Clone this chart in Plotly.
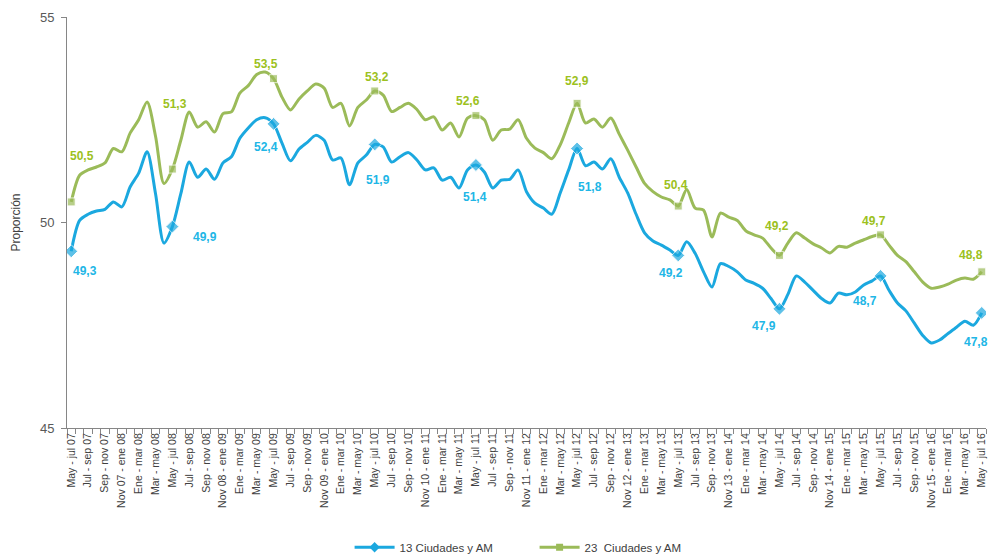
import plotly.graph_objects as go

months = ["May - jul", "Jun - ago", "Jul - sep", "Ago - oct", "Sep - nov", "Oct - dic",
          "Nov - ene", "Dic - feb", "Ene - mar", "Feb - abr", "Mar - may", "Abr - jun"]

# rolling quarter labels May-jul 07 ... May-jul 16 (109 periods)
categories = []
for k in range(109):
    m = k % 12
    yr = 7 + (k + 4) // 12
    base = months[m]
    if m == 6:
        categories.append(f"Nov {yr:02d} - ene {yr+1:02d}")
    elif m == 7:
        categories.append(f"Dic {yr:02d} - feb {yr+1:02d}")
    else:
        yy = 7 + (k + 6) // 12
        categories.append(f"{base} {yy:02d}")

serie_13 = [49.3, 50.05, 50.2, 50.28, 50.32, 50.5, 50.38, 50.87, 51.2, 51.72,
            50.7, 49.5, 49.9, 50.7, 51.47, 51.1, 51.3, 51.05, 51.45, 51.6,
            52.05, 52.3, 52.5, 52.55, 52.4, 51.93, 51.5, 51.78, 51.95, 52.12,
            52.0, 51.52, 51.57, 50.92, 51.45, 51.64, 51.9, 51.84, 51.47, 51.6,
            51.7, 51.52, 51.28, 51.33, 51.03, 51.1, 50.84, 51.28, 51.4, 51.23,
            50.84, 51.03, 51.05, 51.28, 50.75, 50.47, 50.35, 50.2, 50.72, 51.28,
            51.8, 51.38, 51.47, 51.3, 51.55, 51.1, 50.72, 50.2, 49.75, 49.55,
            49.45, 49.33, 49.2, 49.53, 49.25, 48.8, 48.43, 49.0, 48.93, 48.8,
            48.6, 48.52, 48.4, 48.15, 47.9, 48.25, 48.7, 48.55, 48.35, 48.15,
            48.04, 48.28, 48.24, 48.31, 48.48, 48.58, 48.7, 48.35, 48.04, 47.85,
            47.55, 47.25, 47.07, 47.14, 47.3, 47.45, 47.6, 47.5, 47.8]

serie_23 = [50.5, 51.15, 51.28, 51.35, 51.45, 51.8, 51.72, 52.18, 52.5, 52.93,
            52.1, 50.95, 51.3, 52.0, 52.69, 52.32, 52.45, 52.2, 52.65, 52.69,
            53.15, 53.33, 53.6, 53.66, 53.5, 53.05, 52.74, 53.0, 53.2, 53.37,
            53.27, 52.8, 52.9, 52.35, 52.8, 52.98, 53.2, 53.1, 52.7, 52.8,
            52.9, 52.75, 52.5, 52.57, 52.25, 52.42, 52.08, 52.54, 52.6, 52.5,
            52.0, 52.25, 52.27, 52.5, 52.05, 51.81, 51.7, 51.55, 51.89, 52.42,
            52.9, 52.42, 52.52, 52.32, 52.54, 52.15, 51.76, 51.35, 50.95, 50.75,
            50.62, 50.55, 50.4, 50.8, 50.35, 50.3, 49.65, 50.23, 50.13, 50.05,
            49.8, 49.7, 49.62, 49.38, 49.2, 49.5, 49.75, 49.62, 49.48, 49.38,
            49.26, 49.42, 49.4, 49.5, 49.58, 49.66, 49.7, 49.45, 49.2, 49.05,
            48.8, 48.55, 48.4, 48.43, 48.5, 48.6, 48.65, 48.62, 48.8]

label_idx = [0, 12, 24, 36, 48, 60, 72, 84, 96, 108]
labels_13 = ["49,3", "49,9", "52,4", "51,9", "51,4", "51,8", "49,2", "47,9", "48,7", "47,8"]
labels_23 = ["50,5", "51,3", "53,5", "53,2", "52,6", "52,9", "50,4", "49,2", "49,7", "48,8"]

BLUE = "#1BA8DF"
BLUE_TXT = "#21B6E6"
GREEN = "#9BBB59"
GREEN_TXT = "#9CC120"

x = list(range(len(categories)))
msize_13 = [10 if i in label_idx else 0 for i in x]
msize_23 = [8 if i in label_idx else 0 for i in x]

fig = go.Figure()
fig.add_trace(go.Scatter(x=x, y=serie_13, mode="lines+markers", showlegend=False,
                         line=dict(color=BLUE, width=3, shape="spline", smoothing=0.8),
                         marker=dict(symbol="diamond", size=msize_13, color=BLUE)))
fig.add_trace(go.Scatter(x=x, y=serie_23, mode="lines+markers", showlegend=False,
                         line=dict(color=GREEN, width=3, shape="spline", smoothing=0.8),
                         marker=dict(symbol="square", size=msize_23, color=GREEN)))
fig.add_trace(go.Scatter(x=[None], y=[None], mode="lines+markers", name="13 Ciudades y AM",
                         line=dict(color=BLUE, width=3),
                         marker=dict(symbol="diamond", size=8, color=BLUE)))
fig.add_trace(go.Scatter(x=[None], y=[None], mode="lines+markers", name="23  Ciudades y AM",
                         line=dict(color=GREEN, width=3),
                         marker=dict(symbol="square", size=7, color=GREEN)))

off_13 = [(14, -20), (33, -10), (-8, -23), (3, -36), (-1, -32), (13, -38), (-7, -18), (-15, -17), (-16, -25), (-6, -29)]
off_23 = [(11, 46), (3, 65), (-8, 15), (2, 14), (-8, 15), (0, 22), (-2, 21), (-2, 29), (-7, 14), (-11, 17)]

annotations = []
for k, i in enumerate(label_idx):
    annotations.append(dict(x=i, y=serie_13[i], xref="x", yref="y", text=labels_13[k],
                            showarrow=False, xshift=off_13[k][0], yshift=off_13[k][1],
                            font=dict(family="Liberation Sans, Arial", size=12, color=BLUE_TXT, weight="bold")))
    annotations.append(dict(x=i, y=serie_23[i], xref="x", yref="y", text=labels_23[k],
                            showarrow=False, xshift=off_23[k][0], yshift=off_23[k][1],
                            font=dict(family="Liberation Sans, Arial", size=12, color=GREEN_TXT, weight="bold")))
annotations.append(dict(x=0, y=0.5, xref="paper", yref="paper", text="Proporción", textangle=-90,
                        showarrow=False, xanchor="center", yanchor="middle", xshift=-52,
                        font=dict(family="Liberation Sans, Arial", size=12, color="#404040")))

ticktext = [c if i % 2 == 0 else "" for i, c in enumerate(categories)]

fig.update_layout(
    width=991, height=554,
    margin=dict(l=67, r=5, t=17, b=126, autoexpand=False),
    paper_bgcolor="white", plot_bgcolor="white",
    font=dict(family="Liberation Sans, Arial", color="#404040"),
    annotations=annotations,
    showlegend=True,
    legend=dict(orientation="h", x=0.3075, xanchor="left", y=-0.29, yanchor="middle",
                font=dict(size=11.5, color="#404040"), entrywidth=130, entrywidthmode="pixels",
                itemwidth=40, tracegroupgap=0),
    xaxis=dict(range=[-0.5, 108.5], tickmode="array", tickvals=x, ticktext=ticktext,
               tickangle=-90, ticks="", showgrid=False, zeroline=False, automargin=False,
               showline=True, linecolor="#868686", linewidth=1,
               tickfont=dict(size=10.5, color="#404040"),
               minor=dict(tickmode="array", tickvals=[i - 0.5 for i in range(110)],
                          ticks="outside", ticklen=5, tickcolor="#868686", showgrid=False)),
    yaxis=dict(range=[45, 55], tickvals=[45, 50, 55], ticks="outside", ticklen=5,
               tickcolor="#868686", showgrid=False, zeroline=False, automargin=False,
               showline=True, linecolor="#868686", linewidth=1, ticklabelstandoff=4,
               tickfont=dict(size=13, color="#595959")),
)

fig.write_html("out.html", config={"responsive": False, "displayModeBar": False},
               post_script="document.body.style.margin='0px';document.body.style.overflow='hidden';")
